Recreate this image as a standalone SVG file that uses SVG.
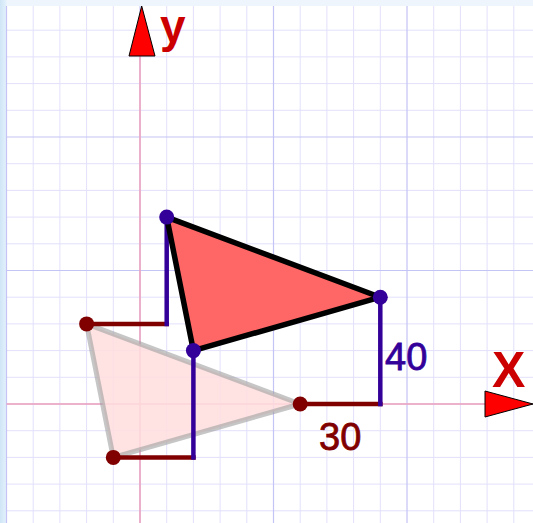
<svg xmlns="http://www.w3.org/2000/svg" width="533" height="523" viewBox="0 0 533 523">
<defs>
<linearGradient id="edge" x1="0" y1="0" x2="1" y2="0">
<stop offset="0" stop-color="#cfe6f7"/><stop offset="1" stop-color="#e4f1fb"/>
</linearGradient>
</defs>
<style>
.minor{stroke:#e2e0fb;stroke-width:1;fill:none}
.major{stroke:#c4c4f6;stroke-width:1.2;fill:none}
.axis{stroke:#f0a3bd;stroke-width:1.5;fill:none}
.arrow{fill:#ff0000;stroke:#000;stroke-width:1}
.axlbl{font-family:"Liberation Sans",Arial,sans-serif;font-weight:bold;fill:#cc0000}
.blue{stroke:#330099;stroke-width:4.5;fill:none;stroke-linecap:butt}
.dred{stroke:#800000;stroke-width:4.5;fill:none}
.bdot{fill:#330099}
.rdot{fill:#800000}
.num{font-family:"Liberation Sans",Arial,sans-serif;font-size:38px;stroke-width:0.8}
</style>
<rect x="0" y="0" width="533" height="523" fill="#ffffff"/>
<rect x="0" y="0" width="533" height="6" fill="#eef5fc"/>
<rect x="0" y="0" width="6.5" height="523" fill="url(#edge)"/>
<g id="grid">
<path class="minor" d="M33.2 6V523M59.9 6V523M86.6 6V523M113.3 6V523M166.7 6V523M193.4 6V523M220.1 6V523M246.8 6V523M300.2 6V523M326.9 6V523M353.6 6V523M380.3 6V523M433.7 6V523M460.4 6V523M487.1 6V523M513.8 6V523M6.5 30.2H533M6.5 56.9H533M6.5 83.6H533M6.5 110.3H533M6.5 163.7H533M6.5 190.4H533M6.5 217.1H533M6.5 243.8H533M6.5 297.2H533M6.5 323.9H533M6.5 350.6H533M6.5 377.3H533M6.5 430.7H533M6.5 457.4H533M6.5 484.1H533M6.5 510.8H533"/>
<path class="major" d="M6.5 6V523M140 6V523M273.5 6V523M407 6V523M6.5 137H533M6.5 270.5H533M6.5 404H533"/>
</g>
<g id="axes">
<path class="axis" d="M6.5 404H486M140 56V523"/>
<polygon class="arrow" points="485,391 533,404 485,417"/>
<polygon class="arrow" points="141.7,6 155,56 129,56"/>
<text class="axlbl" x="492" y="387" font-size="50">X</text>
<text class="axlbl" x="160" y="42" font-size="46">y</text>
</g>
<g id="original-triangle">
<polygon points="86.6,323.9 113.3,457.4 300.2,404" fill="#ffdede" fill-opacity="0.85" stroke="#a0a0a0" stroke-opacity="0.6" stroke-width="5" stroke-linejoin="round"/>
</g>
<g id="connectors">
<path class="dred" d="M86.6 323.9H169"/>
<path class="blue" d="M166.7 326.2V217.1"/>
<path class="dred" d="M113.3 457.4H195.7"/>
<path class="blue" d="M193.4 459.7V350.6"/>
<path class="dred" d="M300.2 404H382.6"/>
<path class="blue" d="M380.3 406.3V297.2"/>
</g>
<g id="image-triangle">
<polygon points="166.7,217.1 193.4,350.6 380.3,297.2" fill="#ff6666" stroke="#000000" stroke-width="5.5" stroke-linejoin="round"/>
</g>
<g id="points">
<circle class="rdot" cx="86.6" cy="323.9" r="7.5"/>
<circle class="rdot" cx="113.3" cy="457.4" r="7.5"/>
<circle class="rdot" cx="300.2" cy="404" r="7.5"/>
<circle class="bdot" cx="166.7" cy="217.1" r="7.5"/>
<circle class="bdot" cx="193.4" cy="350.6" r="7.5"/>
<circle class="bdot" cx="380.3" cy="297.2" r="7.5"/>
</g>
<g id="labels">
<text class="num" x="385" y="370" fill="#330099" stroke="#330099">40</text>
<text class="num" x="319" y="450" fill="#800000" stroke="#800000">30</text>
</g>
</svg>
